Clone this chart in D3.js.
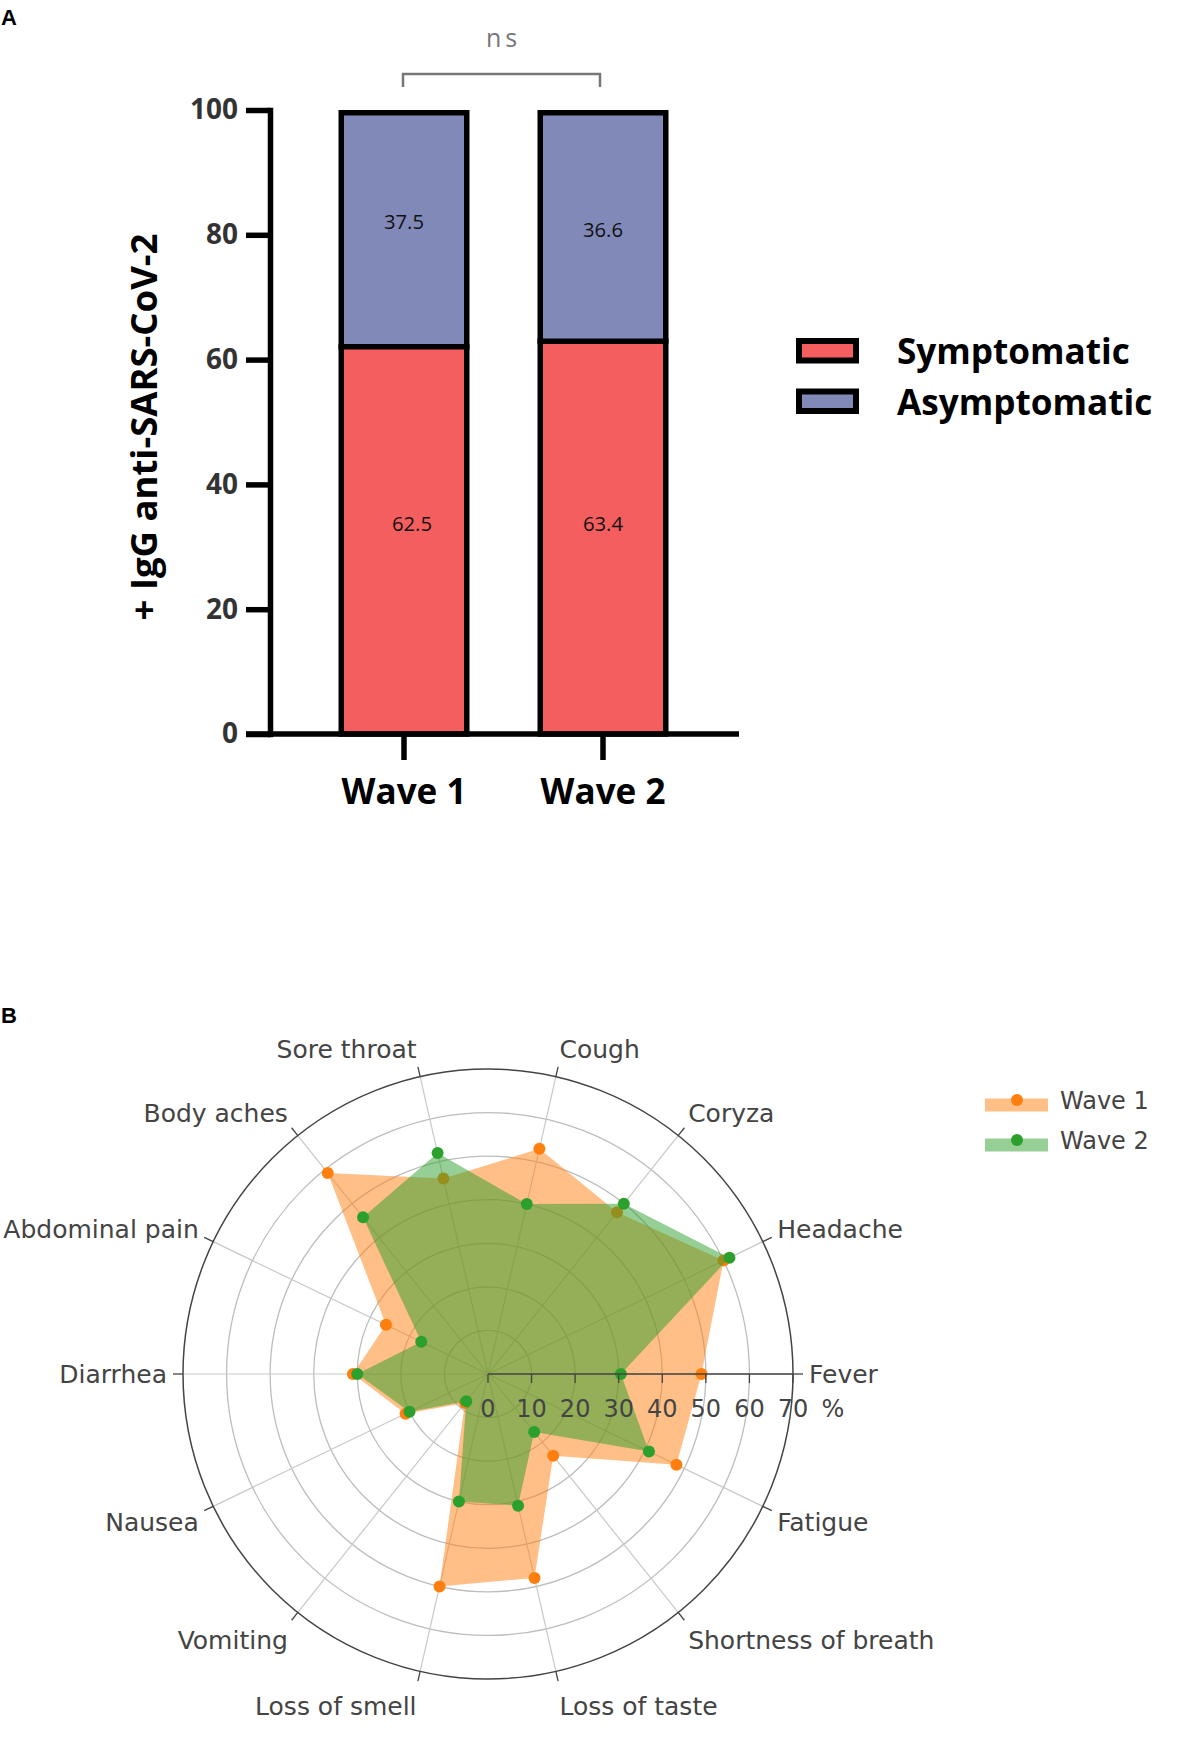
<!DOCTYPE html>
<html><head><meta charset="utf-8">
<script src="https://cdn.jsdelivr.net/npm/d3@7"></script>
<style>body{margin:0;background:#fff}</style>
</head><body><svg id="c" width="1181" height="1761"></svg>
<script>
// ---------- data ----------
const waves = ["Wave 1", "Wave 2"];
const symptomatic = [62.5, 63.4];
const asymptomatic = [37.5, 36.6];
const yTicksA = [0, 20, 40, 60, 80, 100];
const legendA = ["Symptomatic", "Asymptomatic"];
const sigLabel = "ns";

const symptoms = ["Fever", "Headache", "Coryza", "Cough", "Sore throat", "Body aches", "Abdominal pain",
  "Diarrhea", "Nausea", "Vomiting", "Loss of smell", "Loss of taste", "Shortness of breath", "Fatigue"];
const wave1 = [49, 60, 47.5, 53, 46, 59, 26, 31, 21, 8.5, 50, 48, 24, 48];
const wave2 = [30.5, 61.5, 50, 40, 52, 46, 17, 30, 20, 8, 30, 31, 17, 41];
const rTicks = [0, 10, 20, 30, 40, 50, 60, 70];
const rSuffix = "%";
const seriesB = ["Wave 1", "Wave 2"];

// ---------- helpers ----------
const svg = d3.select("#c");
svg.append("rect").attr("width", 1181).attr("height", 1761).attr("fill", "#fff");
function fitSize(sel, target) {
  const m = sel.node().getComputedTextLength();
  const fs = parseFloat(sel.attr("font-size"));
  const n = fs * target / m;
  sel.attr("font-size", n);
  return n;
}

// ================= Panel A =================
const FA = "'Open Sans', sans-serif";
const SW = 5.5;
const colSym = "#F45E5E", colAsym = "#8189B9";
const y = d3.scaleLinear().domain([0, 100]).range([734, 110]);
const x = d3.scaleBand().domain(waves).range([338.5, 668.5]).paddingInner(0.3417).paddingOuter(0);
const bw = x.bandwidth();

const rows = waves.map((w, i) => ({ w, sym: symptomatic[i], asym: asymptomatic[i] }));
const stacked = d3.stack().keys(["sym", "asym"])(rows);
const colors = { sym: colSym, asym: colAsym };
const gA = svg.append("g");
const yb = v => y(v) + SW / 2; // horizontal bar edges drawn half a stroke below the value line

stacked.forEach(layer => {
  gA.selectAll(null).data(layer).enter().append("rect")
    .attr("x", d => x(d.data.w) + SW / 2)
    .attr("width", bw - SW)
    .attr("y", d => yb(d[1]))
    .attr("height", d => Math.min(yb(d[0]), y(0)) - yb(d[1]))
    .attr("fill", colors[layer.key]);
});
// outlines
gA.selectAll(null).data(rows).enter().append("rect")
  .attr("x", d => x(d.w) + SW / 2).attr("width", bw - SW)
  .attr("y", d => yb(d.sym + d.asym))
  .attr("height", d => y(0) - yb(d.sym + d.asym))
  .attr("fill", "none").attr("stroke", "#000").attr("stroke-width", SW);
gA.selectAll(null).data(rows).enter().append("line")
  .attr("x1", d => x(d.w)).attr("x2", d => x(d.w) + bw)
  .attr("y1", d => yb(d.sym)).attr("y2", d => yb(d.sym))
  .attr("stroke", "#000").attr("stroke-width", SW);

// value labels (position offsets in data units / px)
const symLabelPos = [[8, 33.6], [0, 33.6]];
const asymLabelPos = [[0, 82.1], [0, 80.8]];
let valFs = null;
rows.forEach((d, i) => {
  [[d.sym, symLabelPos[i]], [d.asym, asymLabelPos[i]]].forEach(([v, p]) => {
    const t = gA.append("text").text(v.toFixed(1))
      .attr("x", x(d.w) + bw / 2 + p[0]).attr("y", y(p[1])).attr("dy", "0.35em")
      .attr("text-anchor", "middle").attr("font-family", FA).attr("font-size", 20).attr("fill", "#111");
    if (valFs === null) valFs = fitSize(t, 40); else t.attr("font-size", valFs);
  });
});

// y axis
const yAxis = gA.append("g").attr("transform", "translate(270,0)")
  .call(d3.axisLeft(y).tickValues(yTicksA).tickSize(24).tickSizeOuter(0).tickPadding(8));
yAxis.select(".domain").attr("stroke", "#000").attr("stroke-width", SW).attr("stroke-linecap", "square");
yAxis.selectAll(".tick line").attr("stroke", "#000").attr("stroke-width", SW);
yAxis.selectAll(".tick text").attr("font-family", FA).attr("font-weight", 700).attr("font-size", 28).attr("fill", "#333");
const t100 = yAxis.selectAll(".tick text").filter(d => d === 100);
const tfs = fitSize(t100, 48);
yAxis.selectAll(".tick text").attr("font-size", tfs);

// x axis
gA.append("line").attr("x1", 246).attr("x2", 739).attr("y1", y(0)).attr("y2", y(0))
  .attr("stroke", "#000").attr("stroke-width", SW);
const xAxis = gA.append("g").attr("transform", `translate(0,${y(0)})`)
  .call(d3.axisBottom(x).tickSize(26).tickSizeOuter(0));
xAxis.select(".domain").remove();
xAxis.selectAll(".tick line").attr("stroke", "#000").attr("stroke-width", SW);
xAxis.selectAll(".tick text").attr("y", 70).attr("dy", null)
  .attr("font-family", FA).attr("font-weight", 700).attr("font-size", 33).attr("fill", "#000");
const xfs = fitSize(xAxis.selectAll(".tick text").filter((d, i) => i === 0), 125);
xAxis.selectAll(".tick text").attr("font-size", xfs);

// y title
const yt = gA.append("text").text("+ IgG anti-SARS-CoV-2")
  .attr("transform", "translate(144,427) rotate(-90)").attr("text-anchor", "middle").attr("dy", "0.35em")
  .attr("font-family", FA).attr("font-weight", 700).attr("font-size", 30).attr("fill", "#000");
fitSize(yt, 387);

// significance bracket
const bx1 = x(waves[0]) + bw / 2 - 1, bx2 = x(waves[1]) + bw / 2 - 3;
gA.append("path").attr("d", `M${bx1},87V74H${bx2}V87`).attr("fill", "none")
  .attr("stroke", "#777").attr("stroke-width", 2.5);
gA.append("text").text(sigLabel).attr("x", (bx1 + bx2) / 2 + 2).attr("y", 47)
  .attr("text-anchor", "middle").attr("font-family", FA).attr("font-size", 25)
  .attr("letter-spacing", 4).attr("fill", "#777");

// legend A
let lgFs = null;
legendA.forEach((name, i) => {
  const yy = 338 + i * 50.5;
  gA.append("rect").attr("x", 799).attr("y", yy + 3).attr("width", 57).attr("height", 19.5)
    .attr("fill", i === 0 ? colSym : colAsym).attr("stroke", "#000").attr("stroke-width", 6);
  const t = gA.append("text").text(name).attr("x", 897).attr("y", yy + 26)
    .attr("font-family", FA).attr("font-weight", 700).attr("font-size", 34).attr("fill", "#000");
  if (lgFs === null) lgFs = fitSize(t, 233); else t.attr("font-size", lgFs);
});

// panel letters
svg.append("text").text("A").attr("x", 1).attr("y", 25).attr("font-family", "'Liberation Sans', Arial, sans-serif")
  .attr("font-weight", 700).attr("font-size", 22).attr("fill", "#000");
svg.append("text").text("B").attr("x", 1).attr("y", 1023).attr("font-family", "'Liberation Sans', Arial, sans-serif")
  .attr("font-weight", 700).attr("font-size", 22).attr("fill", "#000");

// ================= Panel B =================
const FB = "'DejaVu Sans', Verdana, sans-serif";
const cx = 488, cy = 1374;
const r = d3.scaleLinear().domain([0, 70]).range([0, 305]);
const ang = d3.scaleLinear().domain([0, symptoms.length]).range([0, 2 * Math.PI]);
const R = r(70);
const gB = svg.append("g");

// grid circles
gB.selectAll(null).data(rTicks.filter(t => t > 0 && t < 70)).enter().append("circle")
  .attr("cx", cx).attr("cy", cy).attr("r", d => r(d))
  .attr("fill", "none").attr("stroke", "#bdbdbd").attr("stroke-width", 1.3);
// spokes
gB.selectAll(null).data(symptoms).enter().append("line")
  .attr("x1", cx).attr("y1", cy)
  .attr("x2", (d, i) => cx + R * Math.cos(ang(i))).attr("y2", (d, i) => cy - R * Math.sin(ang(i)))
  .attr("stroke", "#c8c8c8").attr("stroke-width", 1.2);
// outer circle
gB.append("circle").attr("cx", cx).attr("cy", cy).attr("r", R)
  .attr("fill", "none").attr("stroke", "#444").attr("stroke-width", 1.5);
// angular ticks
gB.selectAll(null).data(symptoms).enter().append("line")
  .attr("x1", (d, i) => cx + R * Math.cos(ang(i))).attr("y1", (d, i) => cy - R * Math.sin(ang(i)))
  .attr("x2", (d, i) => cx + (R + 10) * Math.cos(ang(i))).attr("y2", (d, i) => cy - (R + 10) * Math.sin(ang(i)))
  .attr("stroke", "#444").attr("stroke-width", 1.3);
// angular labels
gB.selectAll(null).data(symptoms).enter().append("text").text(d => d)
  .each(function (d, i) {
    const a = ang(i), c = Math.cos(a), s = Math.sin(a);
    const lr = R + 16;
    const lx = cx + lr * c, ly = cy - lr * s - s * (s > 0 ? 12 : 20);
    d3.select(this).attr("x", lx).attr("y", ly)
      .attr("text-anchor", c > 0.05 ? "start" : (c < -0.05 ? "end" : "middle"));
  })
  .attr("dy", "0.35em").attr("font-family", FB).attr("font-size", 25).attr("fill", "#444");

// traces
const radial = d3.lineRadial()
  .angle((d, i) => Math.PI / 2 - ang(i))
  .radius(d => r(d))
  .curve(d3.curveLinearClosed);
const traceCols = [[255, 127, 14], [44, 160, 44]];
[wave1, wave2].forEach((vals, k) => {
  const c = traceCols[k];
  const g = gB.append("g").attr("transform", `translate(${cx},${cy})`);
  g.append("path").attr("d", radial(vals)).attr("fill", `rgba(${c},0.5)`).attr("stroke", "none");
  g.selectAll(null).data(vals).enter().append("circle")
    .attr("cx", (v, i) => r(v) * Math.cos(ang(i)))
    .attr("cy", (v, i) => -r(v) * Math.sin(ang(i)))
    .attr("r", 6).attr("fill", `rgb(${c})`);
});

// radial axis (above traces)
gB.append("line").attr("x1", cx).attr("x2", cx + R).attr("y1", cy).attr("y2", cy)
  .attr("stroke", "#444").attr("stroke-width", 1.6);
gB.selectAll(null).data(rTicks).enter().append("line")
  .attr("x1", d => cx + r(d)).attr("x2", d => cx + r(d)).attr("y1", cy).attr("y2", cy + 9)
  .attr("stroke", "#444").attr("stroke-width", 1.3);
gB.selectAll(null).data(rTicks).enter().append("text").text(d => d)
  .attr("x", d => cx + r(d)).attr("y", cy + 43).attr("text-anchor", "middle")
  .attr("font-family", FB).attr("font-size", 24).attr("fill", "#444");
gB.append("text").text(rSuffix).attr("x", cx + R + 40).attr("y", cy + 43).attr("text-anchor", "middle")
  .attr("font-family", FB).attr("font-size", 24).attr("fill", "#444");

// legend B
seriesB.forEach((name, k) => {
  const c = traceCols[k];
  const yy = 1105 + k * 40;
  gB.append("rect").attr("x", 985).attr("y", yy - 6.5).attr("width", 63).attr("height", 13)
    .attr("fill", `rgba(${c},0.5)`);
  gB.append("circle").attr("cx", 1017).attr("cy", yy - 5).attr("r", 6).attr("fill", `rgb(${c})`);
  gB.append("text").text(name).attr("x", 1060).attr("y", yy + 4)
    .attr("font-family", FB).attr("font-size", 24).attr("fill", "#444");
});
</script>
</body></html>
